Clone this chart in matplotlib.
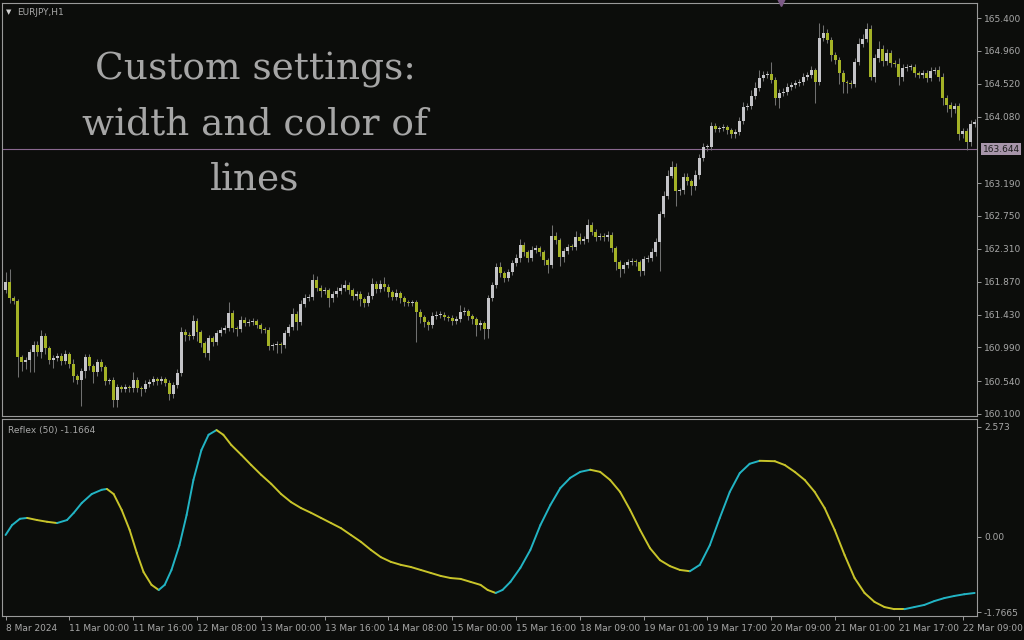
import numpy as np
import matplotlib.pyplot as plt
from matplotlib.collections import LineCollection

plt.rcParams['font.family'] = ['DejaVu Sans']

# %% data: EURJPY H1 closes (open = previous close)
first_open = 161.76
closes = [
    161.87, 161.65, 161.61, 160.86, 160.80, 160.82, 160.93, 161.02, 160.93, 161.14,
    160.98, 160.82, 160.85, 160.88, 160.81, 160.90, 160.77, 160.61, 160.56, 160.68,
    160.86, 160.74, 160.66, 160.80, 160.73, 160.54, 160.56, 160.29, 160.46, 160.44,
    160.46, 160.45, 160.56, 160.45, 160.44, 160.50, 160.53, 160.57, 160.54, 160.57,
    160.52, 160.37, 160.49, 160.65, 161.20, 161.16, 161.14, 161.34, 161.20, 161.05,
    160.92, 161.12, 161.06, 161.18, 161.22, 161.25, 161.45, 161.25, 161.24, 161.36,
    161.32, 161.33, 161.34, 161.29, 161.24, 161.23, 161.01, 161.02, 161.04, 161.03,
    161.18, 161.26, 161.44, 161.33, 161.57, 161.65, 161.67, 161.89, 161.79, 161.75,
    161.76, 161.65, 161.71, 161.75, 161.79, 161.83, 161.76, 161.68, 161.71, 161.64,
    161.59, 161.68, 161.84, 161.77, 161.84, 161.80, 161.73, 161.67, 161.72, 161.65,
    161.60, 161.59, 161.60, 161.47, 161.40, 161.33, 161.29, 161.41, 161.42, 161.43,
    161.40, 161.39, 161.34, 161.37, 161.47, 161.48, 161.41, 161.37, 161.29, 161.32,
    161.24, 161.65, 161.83, 162.07, 161.99, 161.92, 162.00, 162.12, 162.19, 162.36,
    162.27, 162.19, 162.30, 162.32, 162.27, 162.16, 162.09, 162.48, 162.43, 162.20,
    162.28, 162.34, 162.33, 162.47, 162.42, 162.44, 162.63, 162.54, 162.47, 162.48,
    162.47, 162.50, 162.32, 162.13, 162.04, 162.09, 162.13, 162.15, 162.13, 162.01,
    162.17, 162.19, 162.27, 162.40, 162.78, 163.02, 163.29, 163.41, 163.08, 163.10,
    163.27, 163.22, 163.15, 163.30, 163.53, 163.67, 163.68, 163.95, 163.92, 163.93,
    163.94, 163.90, 163.85, 163.87, 164.02, 164.21, 164.22, 164.36, 164.46, 164.60,
    164.64, 164.65, 164.57, 164.33, 164.40, 164.41, 164.48, 164.50, 164.53, 164.54,
    164.61, 164.64, 164.70, 164.54, 165.13, 165.20, 165.11, 164.90, 164.84, 164.66,
    164.54, 164.53, 164.52, 164.81, 165.05, 165.12, 165.25, 164.61, 164.86, 164.99,
    164.82, 164.93, 164.80, 164.79, 164.61, 164.73, 164.74, 164.75, 164.66, 164.64,
    164.66, 164.60, 164.69, 164.70, 164.61, 164.33, 164.24, 164.18, 164.22, 163.85,
    163.89, 163.74, 163.98, 164.01,
]
# wick lengths above / below the body, in pips (0.01)
wick_up = [
    13, 17, 3, 3, 3, 4, 4, 6, 6, 8,
    4, 3, 4, 4, 3, 5, 3, 6, 3, 4,
    4, 4, 3, 4, 4, 3, 2, 3, 4, 3,
    4, 3, 10, 3, 3, 5, 4, 4, 3, 4,
    3, 3, 4, 5, 6, 4, 4, 8, 5, 3,
    3, 4, 3, 4, 4, 4, 15, 4, 3, 5,
    4, 4, 4, 3, 3, 3, 3, 3, 4, 3,
    4, 4, 8, 4, 5, 5, 4, 8, 6, 4,
    4, 3, 4, 5, 5, 6, 4, 3, 4, 3,
    3, 5, 8, 4, 6, 10, 4, 3, 5, 3,
    3, 3, 3, 3, 3, 3, 3, 5, 6, 5,
    4, 3, 3, 4, 9, 5, 3, 3, 3, 4,
    3, 4, 4, 5, 6, 3, 4, 4, 5, 8,
    4, 3, 5, 4, 3, 3, 3, 15, 5, 3,
    4, 4, 4, 8, 5, 4, 8, 4, 3, 4,
    4, 5, 3, 3, 3, 4, 5, 4, 3, 3,
    4, 4, 5, 5, 4, 6, 8, 8, 5, 3,
    5, 6, 3, 6, 5, 6, 4, 6, 4, 3,
    4, 3, 3, 4, 6, 6, 4, 8, 8, 10,
    5, 4, 16, 4, 5, 5, 5, 4, 4, 4,
    5, 4, 6, 3, 20, 10, 5, 4, 4, 4,
    4, 3, 4, 6, 8, 6, 8, 5, 6, 10,
    5, 6, 4, 4, 8, 5, 4, 4, 4, 3,
    5, 4, 6, 4, 6, 6, 4, 4, 4, 4,
    4, 4, 5, 4,
]
wick_dn = [
    4, 7, 4, 27, 13, 10, 16, 27, 6, 8,
    8, 5, 10, 4, 5, 4, 5, 8, 6, 35,
    10, 5, 14, 5, 5, 5, 4, 9, 10, 5,
    5, 5, 5, 5, 10, 5, 4, 4, 5, 4,
    5, 8, 5, 4, 4, 8, 5, 4, 12, 6,
    6, 10, 5, 4, 4, 4, 4, 5, 10, 4,
    4, 4, 4, 4, 5, 5, 6, 5, 10, 12,
    5, 4, 4, 10, 4, 4, 4, 4, 5, 8,
    4, 12, 5, 4, 4, 4, 5, 6, 5, 10,
    6, 5, 4, 5, 4, 5, 6, 5, 4, 6,
    5, 4, 5, 40, 8, 6, 6, 4, 4, 4,
    4, 4, 5, 4, 4, 4, 5, 6, 14, 6,
    14, 12, 4, 4, 5, 6, 4, 4, 4, 5,
    5, 6, 4, 4, 5, 6, 10, 4, 5, 12,
    6, 4, 4, 4, 5, 4, 4, 5, 5, 4,
    5, 5, 5, 10, 10, 5, 4, 4, 5, 6,
    5, 4, 4, 5, 38, 4, 4, 3, 20, 5,
    5, 5, 12, 5, 6, 4, 5, 4, 4, 4,
    4, 5, 5, 5, 4, 4, 4, 4, 4, 4,
    4, 4, 4, 10, 14, 5, 4, 4, 4, 4,
    4, 4, 4, 28, 4, 4, 5, 8, 6, 14,
    14, 14, 6, 4, 4, 4, 4, 4, 6, 5,
    6, 5, 5, 5, 10, 5, 4, 4, 5, 4,
    4, 5, 4, 4, 5, 10, 10, 10, 5, 8,
    5, 10, 5, 4,
]

# Reflex (50) read at sample bars
rfx_bar = [0, 1.6, 3.6, 5.4, 7.9, 10.4, 12.9, 15.4, 17.1, 19.1, 21.6, 24.1, 25.4, 27.1,
           29.1, 31.1, 32.9, 34.6, 36.6, 38.4, 39.9, 41.6, 43.6, 45.4, 47.1, 49.1, 50.9,
           52.9, 54.6, 56.6, 59.1, 61.6, 64.1, 66.6, 69.1, 71.6, 74.1, 76.6, 79.1, 81.6,
           84.1, 86.6, 89.1, 91.6, 94.1, 96.6, 99.1, 101.6, 104.1, 106.6, 109.1, 111.6,
           114.1, 116.6, 119.1, 120.9, 122.9, 124.6, 126.6, 129.1, 131.6, 134.1, 136.6,
           139.1, 141.6, 144.1, 146.6, 149.1, 151.6, 154.1, 156.6, 159.1, 161.6, 164.1,
           166.6, 169.1, 171.6, 174.1, 176.6, 179.1, 181.6, 184.1, 186.6, 189.1, 192.9,
           195.4, 197.9, 200.4, 202.9, 205.4, 207.9, 210.4, 212.9, 215.4, 217.9, 220.4,
           222.9, 225.4, 227.9, 230.4, 232.9, 235.4, 237.9, 240.4, 243]
rfx_val = [0.04, 0.27, 0.42, 0.44, 0.39, 0.35, 0.32, 0.39, 0.56, 0.79, 1.00, 1.10, 1.12, 1.00,
           0.63, 0.16, -0.38, -0.83, -1.13, -1.25, -1.13, -0.78, -0.20, 0.51, 1.33, 2.03, 2.39,
           2.50, 2.39, 2.15, 1.92, 1.68, 1.45, 1.24, 1.00, 0.81, 0.67, 0.56, 0.44, 0.32,
           0.20, 0.04, -0.12, -0.31, -0.48, -0.59, -0.66, -0.71, -0.78, -0.85, -0.92, -0.97,
           -0.99, -1.06, -1.13, -1.25, -1.32, -1.25, -1.06, -0.73, -0.31, 0.27, 0.74,
           1.14, 1.38, 1.52, 1.57, 1.52, 1.33, 1.05, 0.63, 0.16, -0.27, -0.55,
           -0.69, -0.78, -0.81, -0.66, -0.20, 0.44, 1.05, 1.49, 1.71, 1.78, 1.77,
           1.68, 1.52, 1.33, 1.05, 0.67, 0.16, -0.43, -0.97, -1.32, -1.53, -1.65,
           -1.70, -1.70, -1.65, -1.60, -1.51, -1.44, -1.39, -1.35, -1.32]

time_ticks = [0, 16, 32, 48, 64, 80, 96, 112, 128, 144, 160, 176, 192, 208, 224, 240]
time_labels = ['8 Mar 2024', '11 Mar 00:00', '11 Mar 16:00', '12 Mar 08:00', '13 Mar 00:00',
               '13 Mar 16:00', '14 Mar 08:00', '15 Mar 00:00', '15 Mar 16:00', '18 Mar 09:00',
               '19 Mar 01:00', '19 Mar 17:00', '20 Mar 09:00', '21 Mar 01:00', '21 Mar 17:00',
               '22 Mar 09:00']
price_ticks = [165.400, 164.960, 164.520, 164.080, 163.190, 162.750, 162.310,
               161.870, 161.430, 160.990, 160.540, 160.100]
bid_price = 163.644
rfx_ticks = [2.573, 0.00, -1.7665]
rfx_tick_labels = ['2.573', '0.00', '-1.7665']

# %% colours
BG = '#0c0d0b'
FRAME = '#9a9a9a'
TXT = '#a8a8a8'
BULL = '#c4c4c8'
BEAR = '#a4b226'
WICK = '#707070'
UP_C = '#22b4c4'
DN_C = '#c8c42a'

closes = np.array(closes)
opens = np.concatenate([[first_open], closes[:-1]])
highs = np.maximum(opens, closes) + np.array(wick_up) * 0.01
lows = np.minimum(opens, closes) - np.array(wick_dn) * 0.01
bars = np.arange(len(closes))

fig = plt.figure(figsize=(10.24, 6.4), dpi=100, facecolor=BG)
ax = fig.add_axes([2 / 1024, 224 / 640, 975 / 1024, 413 / 640], facecolor=BG)
ax2 = fig.add_axes([2 / 1024, 24 / 640, 975 / 1024, 197 / 640], facecolor=BG)

# %% candles
bull = closes >= opens
ax.vlines(bars, lows, highs, color=WICK, lw=0.75, zorder=2)
body_h = np.maximum(np.abs(closes - opens), 0.012)
body_b = np.minimum(opens, closes)
ax.bar(bars[bull], body_h[bull], bottom=body_b[bull], width=0.75, color=BULL, lw=0, zorder=3)
ax.bar(bars[~bull], body_h[~bull], bottom=body_b[~bull], width=0.75, color=BEAR, lw=0, zorder=3)

ax.axhline(bid_price, color='#8a6890', lw=0.8, zorder=1)
ax.set_xlim(-0.9, 243.6)
ax.set_ylim(160.073, 165.601)

for a in (ax, ax2):
    for s in a.spines.values():
        s.set_color(FRAME)
        s.set_linewidth(0.8)
    a.yaxis.tick_right()
    a.tick_params(axis='y', colors=FRAME, labelcolor=TXT, labelsize=6.5, length=3, pad=2, width=0.7)

ax.set_yticks(price_ticks)
ax.set_yticklabels([f'{p:.3f}' for p in price_ticks])
ax.set_xticks([])
ax.text(1.006, (bid_price - 160.073) / (165.601 - 160.073), f'{bid_price:.3f}',
        transform=ax.transAxes, ha='left', va='center', fontsize=6.5, color='#1c1c1c',
        bbox=dict(boxstyle='square,pad=0.15', fc='#a795aa', ec='none'))

ax.text(0.004, 0.985, '\u25bc', transform=ax.transAxes, fontsize=5, color='#d0d0d0', va='top')
ax.text(0.016, 0.988, 'EURJPY,H1', transform=ax.transAxes, fontsize=6.5, color=TXT, va='top')
ax.plot([194.5], [165.62], marker='v', ms=6, color='#7c5a86', clip_on=False, zorder=5)

ax.text(253 / 975, 0.705, 'Custom settings:\nwidth and color of\nlines', transform=ax.transAxes,
        ha='center', va='center', fontsize=27, color='#a6a6a6', family='DejaVu Serif',
        linespacing=1.68)

# %% Reflex panel
pts = np.column_stack([rfx_bar, rfx_val])
segs = np.stack([pts[:-1], pts[1:]], axis=1)
cols = [UP_C if b > a else DN_C for a, b in zip(rfx_val[:-1], rfx_val[1:])]
ax2.add_collection(LineCollection(segs, colors=cols, linewidths=1.4, capstyle='round'))
ax2.set_xlim(-0.9, 243.6)
ax2.set_ylim(-1.86, 2.76)
ax2.set_yticks(rfx_ticks)
ax2.set_yticklabels(rfx_tick_labels)
ax2.text(0.006, 0.965, 'Reflex (50) -1.1664', transform=ax2.transAxes, fontsize=6.5,
         color=TXT, va='top')

ax2.set_xticks(time_ticks)
ax2.set_xticklabels(time_labels, ha='left')
ax2.tick_params(axis='x', colors=FRAME, labelcolor=TXT, labelsize=6.5, length=3, pad=3,
                width=0.7, direction='out')

fig.savefig('out.png', dpi=100, facecolor=BG)
